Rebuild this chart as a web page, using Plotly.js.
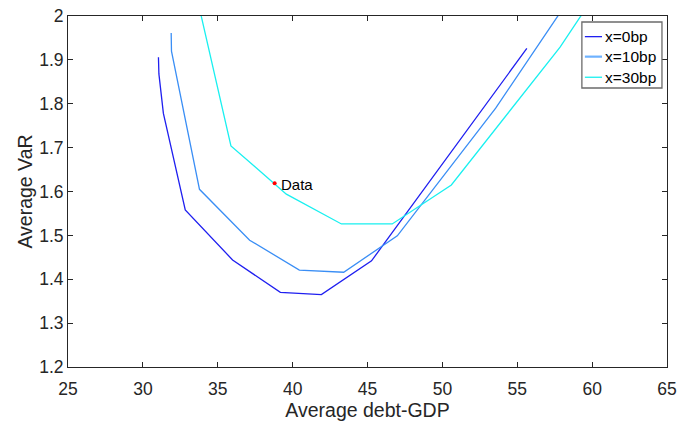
<!DOCTYPE html>
<html>
<head>
<meta charset="utf-8">
<script src="https://cdn.plot.ly/plotly-3.0.1.min.js"></script>
<style>html,body{margin:0;padding:0;background:#fff}#chart{width:678px;height:421px}</style>
</head>
<body>
<div id="chart"></div>
<script>
// Series: Average debt-GDP (x) vs Average VaR (y)
var x0bp = [31.04, 31.07, 31.37, 32.83, 35.99, 39.18, 41.92, 45.27, 55.64];
var y0bp = [1.906, 1.868, 1.778, 1.558, 1.444, 1.370, 1.365, 1.442, 1.926];

var x10bp = [31.89, 31.91, 33.78, 37.13, 40.45, 43.41, 46.99, 53.56, 58.70];
var y10bp = [1.961, 1.920, 1.605, 1.489, 1.421, 1.416, 1.499, 1.790, 2.050];

var x30bp = [33.56, 35.88, 39.58, 43.26, 46.65, 50.60, 57.86, 60.22];
var y30bp = [2.050, 1.704, 1.594, 1.526, 1.526, 1.615, 1.929, 2.050];

var dataX = [38.80];
var dataY = [1.619];
var dataLabel = ["Data"];

var seriesNames = ["x=0bp", "x=10bp", "x=30bp"];
var xTicks = [25, 30, 35, 40, 45, 50, 55, 60, 65];
var yTicks = [1.2, 1.3, 1.4, 1.5, 1.6, 1.7, 1.8, 1.9, 2];

var FONT = "Liberation Sans, Arial, Helvetica, sans-serif";
var AX = "#262626";
var colors = ["#1f1ff0", "#3a8ef5", "#19f0f0"];
var legendColors = ["#1f1ff0", "#6eb2ff", "#19f0f0"];
var legendWidths = [1.3, 2.2, 1.3];

var traces = [
  {x: x0bp, y: y0bp, mode: "lines", name: seriesNames[0], line: {color: colors[0], width: 1.3}},
  {x: x10bp, y: y10bp, mode: "lines", name: seriesNames[1], line: {color: colors[1], width: 1.3}},
  {x: x30bp, y: y30bp, mode: "lines", name: seriesNames[2], line: {color: colors[2], width: 1.3}},
  {x: dataX, y: dataY, mode: "markers", showlegend: false,
   marker: {color: "#ff0000", size: 4}, cliponaxis: false}
];

// legend box geometry (plot-area fractions)
var L = {x0: 0.8579, x1: 0.9916, y0: 0.7949, y1: 0.9829,
         lx0: 0.8629, lx1: 0.8915, tx: 0.8925, rows: [0.9412, 0.8842, 0.8255]};

var shapes = [{type: "rect", xref: "paper", yref: "paper", x0: L.x0, x1: L.x1, y0: L.y0, y1: L.y1,
               line: {color: "#6b6b6b", width: 1.3}, fillcolor: "#fff", layer: "above"}];
var annotations = [{x: dataX[0], y: dataY[0], xref: "x", yref: "y", text: dataLabel[0], showarrow: false,
                    xanchor: "left", yanchor: "middle", xshift: 4, yshift: -1,
                    font: {family: FONT, size: 15, color: "#000"}}];
for (var i = 0; i < seriesNames.length; i++) {
  shapes.push({type: "line", xref: "paper", yref: "paper", x0: L.lx0, x1: L.lx1, y0: L.rows[i], y1: L.rows[i],
               line: {color: legendColors[i], width: legendWidths[i]}, layer: "above"});
  annotations.push({x: L.tx, y: L.rows[i], xref: "paper", yref: "paper", text: seriesNames[i], showarrow: false,
                    xanchor: "left", yanchor: "middle", font: {family: FONT, size: 15.5, color: "#000"}});
}

var layout = {
  width: 678, height: 421,
  margin: {l: 68, r: 11, t: 16, b: 54},
  paper_bgcolor: "#fff", plot_bgcolor: "#fff",
  font: {family: FONT, color: AX},
  showlegend: false,
  shapes: shapes,
  annotations: annotations,
  xaxis: {
    range: [25, 65], tickvals: xTicks, ticktext: xTicks.map(String),
    ticks: "inside", ticklen: 5, tickcolor: AX, tickwidth: 1,
    showline: true, linecolor: AX, linewidth: 1, mirror: "ticks",
    showgrid: false, zeroline: false, ticklabelstandoff: 6,
    tickfont: {family: FONT, size: 17.5, color: AX},
    title: {text: "Average debt-GDP", font: {family: FONT, size: 19.5, color: AX}, standoff: 1}
  },
  yaxis: {
    range: [1.2, 2], tickvals: yTicks, ticktext: yTicks.map(function(v){return v === 2 ? "2" : v.toFixed(1);}),
    ticks: "inside", ticklen: 5, tickcolor: AX, tickwidth: 1,
    showline: true, linecolor: AX, linewidth: 1, mirror: "ticks",
    showgrid: false, zeroline: false,
    tickfont: {family: FONT, size: 17.5, color: AX},
    title: {text: "Average VaR", font: {family: FONT, size: 19.5, color: AX}, standoff: 1}
  }
};

Plotly.newPlot("chart", traces, layout, {displayModeBar: false, staticPlot: true});
</script>
</body>
</html>
